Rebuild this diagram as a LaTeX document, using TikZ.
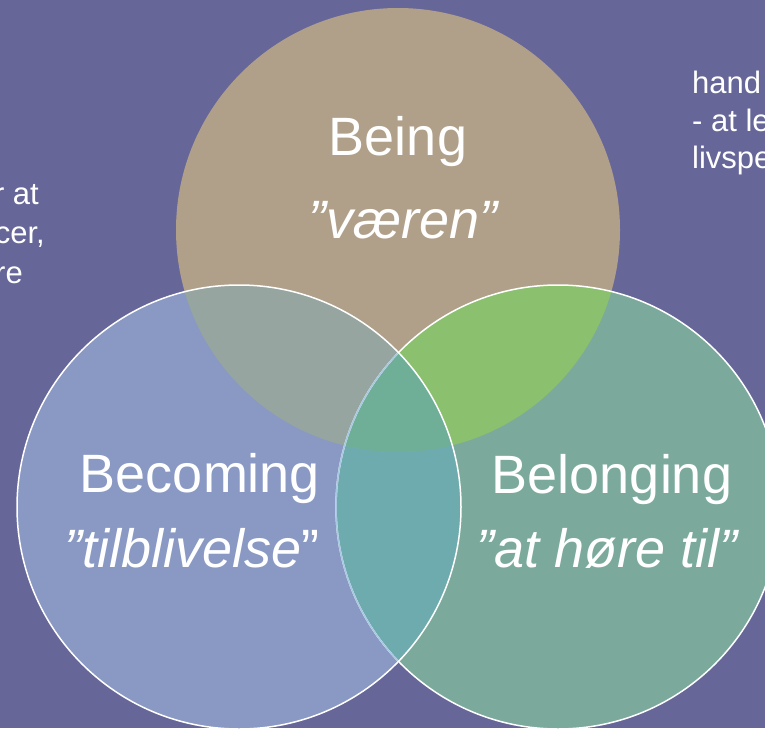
\documentclass[tikz,border=0pt]{standalone}
\usepackage{fontspec}
\setmainfont{Liberation Sans}
\usepackage{xcolor}
\usepackage{tikz}
\usetikzlibrary{positioning}

\definecolor{bgpurple}{HTML}{666699}
\definecolor{beingtan}{HTML}{B0A08A}
\definecolor{becomingblue}{HTML}{8A99C4}
\definecolor{belonginggreen}{HTML}{7BAA9C}
\definecolor{tanblue}{HTML}{97A5A0}
\definecolor{tangreen}{HTML}{8AC06E}
\definecolor{bluegreen}{HTML}{6DABAE}
\definecolor{allthree}{HTML}{6FAF98}
\definecolor{paleblue}{HTML}{A9C9E2}

\tikzset{
    title/.style={text=white, inner sep=0pt, anchor=base,
        font=\fontsize{54}{62}\selectfont},
    aside/.style={text=white, inner sep=0pt,
        font=\fontsize{31}{37}\selectfont},
    rim/.style={line width=1.5pt}
}

\begin{document}
\begin{tikzpicture}[x=1pt, y=-1pt]

    \fill [bgpurple] (0, 0) rectangle (765, 728);
    \useasboundingbox (0, 0) rectangle (765, 728);
    \clip (0, 0) rectangle (765, 728);

    \coordinate (being) at (398, 230);
    \coordinate (becoming) at (239, 507);
    \coordinate (belonging) at (558, 507);
    \def\rad{222}

    % the three circles
    \fill [beingtan] (being) circle (\rad);
    \fill [becomingblue] (becoming) circle (\rad);
    \fill [belonginggreen] (belonging) circle (\rad);

    % overlaps
    \begin{scope}
      \clip (being) circle (\rad);
      \fill [tanblue] (becoming) circle (\rad);
      \fill [tangreen] (belonging) circle (\rad);
      \clip (becoming) circle (\rad);
      \fill [allthree] (belonging) circle (\rad);
    \end{scope}
    \begin{scope}[even odd rule]
      \clip (becoming) circle (\rad);
      \clip (belonging) circle (\rad);
      \fill [bluegreen] (being) circle (\rad) (0, 0) rectangle (765, 728);
    \end{scope}

    % rims
    \draw [rim, white] (belonging) circle (\rad);
    \begin{scope}
      \clip (becoming) circle (\rad);
      \draw [rim, paleblue] (belonging) circle (\rad);
    \end{scope}
    \draw [rim, white] (becoming) circle (\rad);

    % labels
    \node [title] (beingname) at (398, 155) {Being};
    \node [title] (beingdk) at (403, 238) {\itshape ”væren”};
    \node [title] (becomingname) at (200, 492) {Becoming};
    \node [title] (becomingdk) at (192, 567) {{\itshape ”tilblivelse}”};
    \node [title] (belongingname) at (612, 493) {Belonging};
    \node [title] (belongingdk) at (607, 567) {\itshape ”at høre til”};

    % cut off text at the edges
    \node [aside, anchor=base east] (leftone) at (39, 204) {r at};
    \node [aside, anchor=base east] (lefttwo) at (45, 243) {cer,};
    \node [aside, anchor=base east] (leftthree) at (23, 283) {re};
    \node [aside, anchor=base west] (rightone) at (692, 93) {hand};
    \node [aside, anchor=base west] (righttwo) at (692, 131) {- at le};
    \node [aside, anchor=base west] (rightthree) at (692, 168) {livspe};

  \end{tikzpicture}
\end{document}
